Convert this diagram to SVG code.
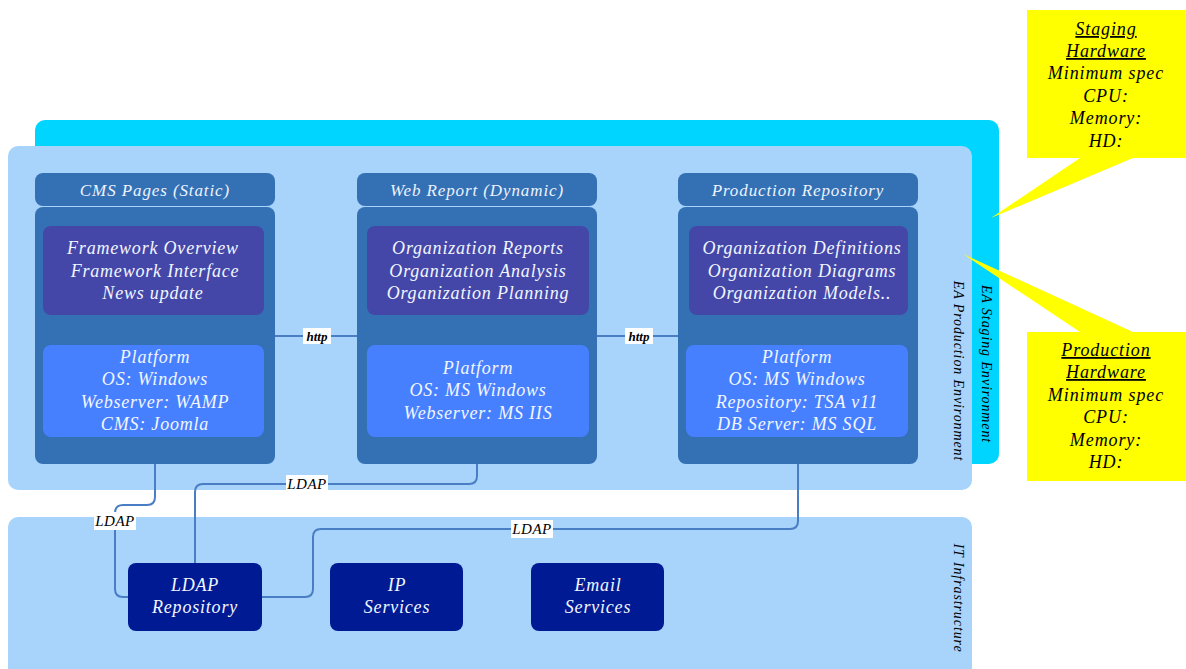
<svg xmlns="http://www.w3.org/2000/svg" width="1186" height="669" viewBox="0 0 1186 669">
<style>
text{font-family:"Liberation Serif","DejaVu Serif",serif;font-style:italic;text-anchor:middle}
.w{fill:#F2F6FF;font-size:18px;letter-spacing:0.8px}
.hd{fill:#EEF3FF;font-size:17px;letter-spacing:0.9px}
.k{fill:#000;font-size:18px;letter-spacing:0.9px}
.side{fill:#000;font-size:14px;letter-spacing:0.9px;dominant-baseline:central}
.hdr{fill:#3370B4}
.body{fill:#3370B4}
.purp{fill:#4447A8}
.plat{fill:#4780FF}
.it{fill:#001A94}
.con{fill:none;stroke:#4A7EC4;stroke-width:2}
.lbl{fill:#fff}
.lt{fill:#000;font-size:15px;letter-spacing:0.5px}
.ht{fill:#000;font-size:13px;font-weight:bold}
.call{fill:#FFFF00}
</style>

<g id="staging-env">
<rect x="35" y="120" width="964" height="344" rx="10" fill="#00D5FF"/>
<text class="side" transform="translate(986,364) rotate(90)">EA Staging Environment</text>
</g>
<g id="production-env">
<rect x="8" y="146" width="964" height="344" rx="10" fill="#A8D4FB"/>
<text class="side" transform="translate(958,371) rotate(90)">EA Production Environment</text>
</g>
<g id="it-infrastructure">
<rect x="8" y="517" width="964" height="170" rx="10" fill="#A8D4FB"/>
<text class="side" transform="translate(958,598) rotate(90)">IT Infrastructure</text>
</g>

<g id="connectors">
<path class="con" d="M275,336 H357"/>
<path class="con" d="M597,336 H678"/>
<path class="con" stroke="#3A6EB0" d="M155,464 V497 Q155,505 147,505 H123 Q115,505 115,513 V589 Q115,597 123,597 H129"/>
<path class="con" d="M477,464 V476 Q477,484 469,484 H203 Q195,484 195,492 V563"/>
<path class="con" d="M798,464 V521 Q798,529 790,529 H321 Q313,529 313,537 V589 Q313,597 305,597 H262"/>
<rect class="lbl" x="303" y="328" width="28" height="16"/>
<text class="ht" x="317" y="341">http</text>
<rect class="lbl" x="625" y="328" width="28" height="16"/>
<text class="ht" x="639" y="341">http</text>
<rect class="lbl" x="94" y="512" width="42" height="18"/>
<text class="lt" x="115" y="526">LDAP</text>
<rect class="lbl" x="286" y="475" width="42" height="18"/>
<text class="lt" x="307" y="489">LDAP</text>
<rect class="lbl" x="511" y="520" width="42" height="18"/>
<text class="lt" x="532" y="534">LDAP</text>
</g>

<g id="cms-pages">
<rect class="hdr" x="35" y="173" width="240" height="33" rx="8"/>
<text class="hd" x="155" y="196">CMS Pages (Static)</text>
<rect class="body" x="35" y="207" width="240" height="257" rx="8"/>
<rect class="purp" x="43" y="226" width="221" height="89" rx="8"/>
<text class="w" x="153" y="254">Framework Overview</text>
<text class="w" x="155" y="277">Framework Interface</text>
<text class="w" x="153" y="299">News update</text>
<rect class="plat" x="43" y="345" width="221" height="92" rx="8"/>
<text class="w" x="155" y="363">Platform</text>
<text class="w" x="155" y="385">OS: Windows</text>
<text class="w" x="155" y="408">Webserver: WAMP</text>
<text class="w" x="155" y="430">CMS: Joomla</text>
</g>

<g id="web-report">
<rect class="hdr" x="357" y="173" width="240" height="33" rx="8"/>
<text class="hd" x="477" y="196">Web Report (Dynamic)</text>
<rect class="body" x="357" y="207" width="240" height="257" rx="8"/>
<rect class="purp" x="367" y="226" width="222" height="89" rx="8"/>
<text class="w" x="478" y="254">Organization Reports</text>
<text class="w" x="478" y="277">Organization Analysis</text>
<text class="w" x="478" y="299">Organization Planning</text>
<rect class="plat" x="367" y="345" width="222" height="92" rx="8"/>
<text class="w" x="478" y="374">Platform</text>
<text class="w" x="478" y="396">OS: MS Windows</text>
<text class="w" x="478" y="419">Webserver: MS IIS</text>
</g>

<g id="production-repository">
<rect class="hdr" x="678" y="173" width="240" height="33" rx="8"/>
<text class="hd" x="798" y="196">Production Repository</text>
<rect class="body" x="678" y="207" width="240" height="257" rx="8"/>
<rect class="purp" x="689" y="226" width="219" height="89" rx="8"/>
<text class="w" x="802" y="254">Organization Definitions</text>
<text class="w" x="802" y="277">Organization Diagrams</text>
<text class="w" x="802" y="299">Organization Models..</text>
<rect class="plat" x="686" y="345" width="222" height="92" rx="8"/>
<text class="w" x="797" y="363">Platform</text>
<text class="w" x="797" y="385">OS: MS Windows</text>
<text class="w" x="797" y="408">Repository: TSA v11</text>
<text class="w" x="797" y="430">DB Server: MS SQL</text>
</g>

<g id="ldap-repository">
<rect class="it" x="128" y="563" width="134" height="68" rx="8"/>
<text class="w" x="195" y="591">LDAP</text>
<text class="w" x="195" y="613">Repository</text>
</g>
<g id="ip-services">
<rect class="it" x="330" y="563" width="133" height="68" rx="8"/>
<text class="w" x="397" y="591">IP</text>
<text class="w" x="397" y="613">Services</text>
</g>
<g id="email-services">
<rect class="it" x="531" y="563" width="133" height="68" rx="8"/>
<text class="w" x="598" y="591">Email</text>
<text class="w" x="598" y="613">Services</text>
</g>

<g id="staging-hardware">
<path class="call" d="M1027,10 H1186 V158 H1133 L991,218 L1080,158 H1027 Z"/>
<text class="k" x="1106" y="35" text-decoration="underline">Staging</text>
<text class="k" x="1106" y="57" text-decoration="underline">Hardware</text>
<text class="k" x="1106" y="79">Minimum spec</text>
<text class="k" x="1106" y="102">CPU:</text>
<text class="k" x="1106" y="124">Memory:</text>
<text class="k" x="1106" y="147">HD:</text>
</g>
<g id="production-hardware">
<path class="call" d="M1027,332 H1080 L963,254 L1133,332 H1186 V481 H1027 Z"/>
<text class="k" x="1106" y="356" text-decoration="underline">Production</text>
<text class="k" x="1106" y="378" text-decoration="underline">Hardware</text>
<text class="k" x="1106" y="401">Minimum spec</text>
<text class="k" x="1106" y="423">CPU:</text>
<text class="k" x="1106" y="446">Memory:</text>
<text class="k" x="1106" y="468">HD:</text>
</g>
</svg>
